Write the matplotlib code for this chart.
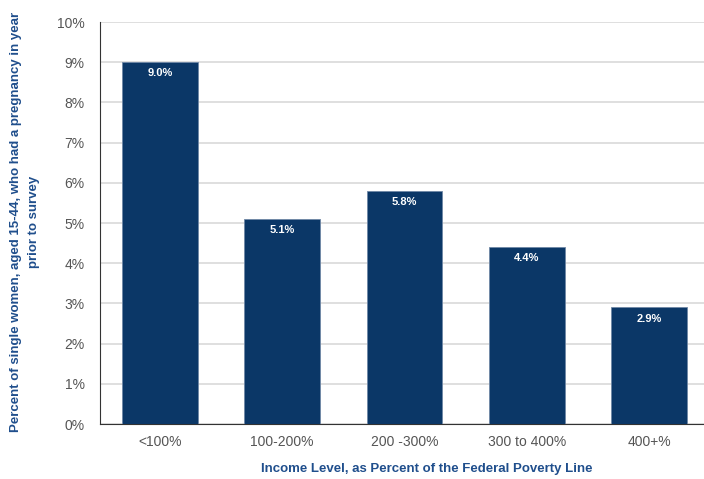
import matplotlib.pyplot as plt
from matplotlib.ticker import PercentFormatter

plt.rcParams['font.family'] = ['Liberation Sans', 'DejaVu Sans']

# income groups and pregnancy rates (%)
categories = ['<100%', '100-200%', '200 -300%', '300 to 400%', '400+%']
rates = [9.0, 5.1, 5.8, 4.4, 2.9]
yticks = list(range(0, 11))

navy = '#0b3767'
label_blue = '#1f4e8c'

fig = plt.figure(figsize=(7.04, 4.79), dpi=100)
ax = fig.add_axes([100 / 704, 55 / 479, 604 / 704, 402 / 479])

x = range(len(categories))
ax.bar(x, rates, width=0.62, color=navy, edgecolor='#6f87a6', linewidth=0.6, zorder=3)

# value labels inside top of bars
for xi, v in zip(x, rates):
    ax.text(xi, v - 0.28, f'{v:.1f}%', ha='center', va='center',
            color='white', fontsize=8, fontweight='bold', zorder=4)

ax.set_xlim(-0.49, 4.45)
ax.set_ylim(0, 10)
ax.set_yticks(yticks)
ax.yaxis.set_major_formatter(PercentFormatter(decimals=0))
ax.set_xticks(list(x))
ax.set_xticklabels(categories)
ax.tick_params(axis='both', length=0, colors='#555555', labelsize=10)
ax.tick_params(axis='y', pad=11)
ax.tick_params(axis='x', pad=8)

ax.grid(axis='y', color='#d9d9d9', linewidth=1.2, zorder=0)
for s in ['top', 'right']:
    ax.spines[s].set_visible(False)
ax.spines['left'].set_color('#333333')
ax.spines['bottom'].set_color('#333333')

fig.text(25 / 704, 1 - 222 / 479,
         'Percent of single women, aged 15-44, who had a pregnancy in year\nprior to survey',
         rotation=90, ha='center', va='center', multialignment='center',
         color=label_blue, fontweight='bold', fontsize=9.5, linespacing=1.6)
fig.text(427 / 704, 1 - 469 / 479,
         'Income Level, as Percent of the Federal Poverty Line',
         ha='center', va='center', color=label_blue, fontweight='bold', fontsize=9.5)

plt.savefig('out.png', dpi=100)
